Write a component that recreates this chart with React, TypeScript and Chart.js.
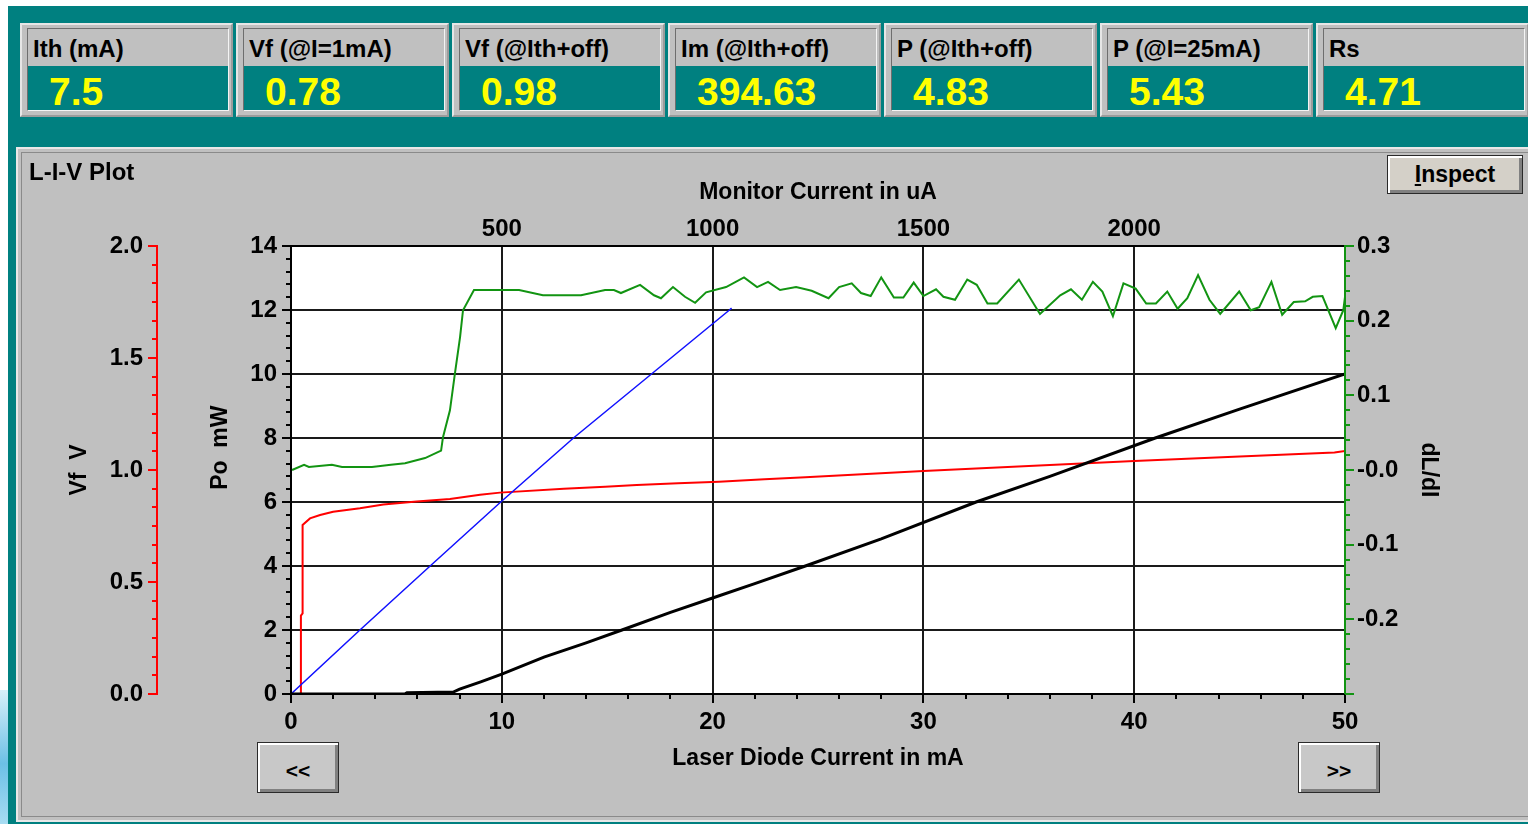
import React, { useEffect, useRef } from 'react';
import { Chart, registerables } from 'chart.js';

Chart.register(...registerables);

// ---------- data ----------
const meterLabels = ['Ith (mA)', 'Vf (@I=1mA)', 'Vf (@Ith+off)', 'Im (@Ith+off)', 'P (@Ith+off)', 'P (@I=25mA)', 'Rs'];
const meterValues = ['7.5', '0.78', '0.98', '394.63', '4.83', '5.43', '4.71'];

const ldCurrentTicks = ['0', '10', '20', '30', '40', '50'];
const monitorTicks = ['', '500', '1000', '1500', '2000'];
const poTicks = ['0', '2', '4', '6', '8', '10', '12', '14'];
const vfTicks = ['0.0', '0.5', '1.0', '1.5', '2.0'];
const dldiTicks = ['', '-0.2', '-0.1', '-0.0', '0.1', '0.2', '0.3'];

// Optical power (black), mA -> mW
const powerCurrent = [0, 5.4, 5.5, 7.7, 8.0, 9.0, 10, 12, 14, 15.7, 18, 20, 22, 24.4, 28, 32.5, 36, 41, 45, 50];
const powerValues = [0, 0, 0.04, 0.06, 0.15, 0.38, 0.62, 1.15, 1.6, 2.0, 2.55, 3.0, 3.45, 4.0, 4.85, 6.0, 6.8, 8.0, 8.9, 10.0];

// Blue line, mA -> mW
const blueCurrent = [0, 3.27, 6.6, 9.95, 13.4, 17.1, 20.8, 20.9];
const bluePower = [0, 2, 4, 6, 8, 10, 12, 12.06];

// Forward voltage (red), mA -> V
const vfCurrent = [0.47, 0.47, 0.55, 0.55, 0.9, 1.38, 2.0, 3.27, 4.38, 5.96, 7.54, 8.97, 9.91, 12.94, 14.9, 16.4, 18.36, 20.3, 22.46, 24.4, 30, 35, 40, 45, 49.5, 50];
const vfValues = [0, 0.35, 0.36, 0.755, 0.784, 0.799, 0.814, 0.829, 0.846, 0.859, 0.871, 0.889, 0.899, 0.916, 0.925, 0.933, 0.941, 0.948, 0.959, 0.968, 0.996, 1.018, 1.04, 1.06, 1.078, 1.085];

// dL/dI (green), mA -> value
const dldiCurrent = [0.05, 0.62, 0.85, 1.94, 2.42, 3.84, 4.74, 5.41, 6.36, 7.12, 7.21, 7.54, 7.78, 8.02, 8.16, 8.68, 10.82, 11.95, 13.76, 14.9, 15.32, 15.65, 16.56, 17.22, 17.55, 18.12, 18.69, 19.17, 19.69, 20.64, 21.49, 22.11, 22.63, 23.2, 23.96, 24.7, 25.5, 26.0, 26.6, 27.04, 27.5, 28.0, 28.6, 29.05, 29.54, 30.0, 30.6, 30.95, 31.5, 32.08, 32.53, 33.04, 33.5, 34.53, 35.53, 36.49, 37.0, 37.52, 38.04, 38.49, 38.99, 39.49, 40.07, 40.57, 41.03, 41.57, 42.06, 42.52, 43.03, 43.57, 44.08, 44.98, 45.53, 45.93, 46.51, 47.02, 47.57, 48.11, 48.47, 48.93, 49.56, 49.92, 50.0];
const dldiValues = [-0.0, 0.007, 0.004, 0.007, 0.004, 0.004, 0.007, 0.009, 0.016, 0.026, 0.044, 0.08, 0.13, 0.178, 0.214, 0.241, 0.241, 0.234, 0.234, 0.241, 0.241, 0.237, 0.248, 0.234, 0.23, 0.245, 0.232, 0.224, 0.238, 0.245, 0.258, 0.245, 0.252, 0.241, 0.245, 0.24, 0.23, 0.245, 0.25, 0.237, 0.233, 0.258, 0.231, 0.231, 0.251, 0.233, 0.242, 0.232, 0.228, 0.255, 0.248, 0.223, 0.223, 0.255, 0.209, 0.234, 0.242, 0.228, 0.252, 0.239, 0.206, 0.25, 0.243, 0.223, 0.223, 0.239, 0.216, 0.23, 0.261, 0.228, 0.209, 0.239, 0.214, 0.218, 0.252, 0.208, 0.225, 0.226, 0.232, 0.233, 0.19, 0.214, 0.232];

// ---------- styles ----------
const FONT = "'Liberation Sans', Arial, Helvetica, sans-serif";
const TEAL = '#008080';
const GRAY = '#c0c0c0';
const RED = '#ff0000';
const BLUE = '#1010ff';
const GREEN = '#129412';
const GRID = '#1a1a1a';

const pts = (xs: number[], ys: number[]) => xs.map((x, i) => ({ x, y: ys[i] }));

const chartBgPlugin = {
  id: 'chartBg',
  beforeDraw(chart: any) {
    const { ctx, chartArea: a } = chart;
    ctx.save();
    ctx.fillStyle = '#ffffff';
    ctx.fillRect(a.left, a.top, a.right - a.left, a.bottom - a.top);
    ctx.restore();
  },
};

const tickMarksPlugin = {
  id: 'tickMarks',
  afterDraw(chart: any) {
    const ctx = chart.ctx;
    const specs = [
      { id: 'x', minor: 2, per: 5, color: '#000', side: 'bottom' },
      { id: 'y', minor: 0.4, per: 5, color: '#000', side: 'left' },
      { id: 'yVf', minor: 0.5 / 6, per: 6, color: RED, side: 'left' },
      { id: 'yR', minor: 0.02, per: 5, color: GREEN, side: 'right' },
    ];
    ctx.save();
    ctx.lineWidth = 2;
    specs.forEach((s) => {
      const sc = chart.scales[s.id];
      const n = Math.round((sc.max - sc.min) / s.minor);
      ctx.strokeStyle = s.color;
      for (let i = 0; i <= n; i++) {
        const v = sc.min + i * s.minor;
        const len = i % s.per === 0 ? 9 : 5;
        const p = Math.round(sc.getPixelForValue(v));
        ctx.beginPath();
        if (s.side === 'bottom') {
          ctx.moveTo(p, sc.top);
          ctx.lineTo(p, sc.top + len);
        } else if (s.side === 'left') {
          ctx.moveTo(sc.right, p);
          ctx.lineTo(sc.right - len, p);
        } else {
          ctx.moveTo(sc.left, p);
          ctx.lineTo(sc.left + len, p);
        }
        ctx.stroke();
      }
    });
    ctx.restore();
  },
};

const tickFont = { family: FONT, size: 24, weight: 'bold' as const };
const titleFont = { family: FONT, size: 23, weight: 'bold' as const };

function Button(props: { left: number; top: number; width: number; height: number; face: string; children: any; size: number; pad?: number }) {
  return (
    <div
      style={{
        position: 'absolute',
        left: props.left,
        top: props.top,
        width: props.width,
        height: props.height,
        boxSizing: 'border-box',
        background: props.face,
        border: '1px solid #2a2a2a',
        boxShadow: 'inset 2px 2px 0 #ffffff, inset -3px -3px 0 #808080',
        display: 'flex',
        alignItems: 'center',
        justifyContent: 'center',
        paddingTop: props.pad || 0,
        fontFamily: FONT,
        fontWeight: 'bold',
        fontSize: props.size,
        color: '#000',
      }}
    >
      {props.children}
    </div>
  );
}

export default function App() {
  const ref = useRef<HTMLCanvasElement>(null);

  useEffect(() => {
    const chart = new Chart(ref.current as HTMLCanvasElement, {
      type: 'line',
      data: {
        datasets: [
          { label: 'Po', data: pts(powerCurrent, powerValues), xAxisID: 'x', yAxisID: 'y', borderColor: '#000', borderWidth: 3, pointRadius: 0, tension: 0 },
          { label: 'Im', data: pts(blueCurrent, bluePower), xAxisID: 'x', yAxisID: 'y', borderColor: BLUE, borderWidth: 1.5, pointRadius: 0, tension: 0 },
          { label: 'Vf', data: pts(vfCurrent, vfValues), xAxisID: 'x', yAxisID: 'yVf', borderColor: RED, borderWidth: 2, pointRadius: 0, tension: 0 },
          { label: 'dL/dI', data: pts(dldiCurrent, dldiValues), xAxisID: 'x', yAxisID: 'yR', borderColor: GREEN, borderWidth: 2, pointRadius: 0, tension: 0 },
        ],
      },
      options: {
        animation: false,
        responsive: false,
        devicePixelRatio: 1,
        events: [],
        layout: { padding: { left: 40, right: 70, top: 170, bottom: 44 } },
        plugins: { legend: { display: false }, tooltip: { enabled: false } },
        scales: {
          x: {
            type: 'linear',
            position: 'bottom',
            min: 0,
            max: 50,
            ticks: { stepSize: 10, font: tickFont, color: '#000', padding: 14, maxRotation: 0, autoSkip: false, callback: (_v: any, i: number) => ldCurrentTicks[i] },
            grid: { color: GRID, lineWidth: 2, drawTicks: false },
            border: { color: '#000', width: 2, z: 1 },
            title: { display: true, text: 'Laser Diode Current in mA', font: titleFont, color: '#000', padding: { top: 0, bottom: 8 } },
            afterFit: (s: any) => { s.height = 86; },
          },
          x2: {
            type: 'linear',
            position: 'top',
            min: -17,
            max: 2467,
            ticks: { stepSize: 500, includeBounds: false, font: tickFont, color: '#000', padding: 2, maxRotation: 0, autoSkip: false, callback: (_v: any, i: number) => monitorTicks[i] },
            grid: { display: false, drawTicks: false },
            border: { color: '#000', width: 2, z: 1 },
            title: { display: true, text: 'Monitor Current in uA', font: titleFont, color: '#000', padding: { top: 9, bottom: 0 } },
            afterFit: (s: any) => { s.height = 76; },
          },
          y: {
            type: 'linear',
            position: 'left',
            weight: 0,
            min: 0,
            max: 14,
            ticks: { stepSize: 2, font: tickFont, color: '#000', padding: 14, callback: (_v: any, i: number) => poTicks[i] },
            grid: { color: GRID, lineWidth: 2, drawTicks: false },
            border: { color: '#000', width: 2, z: 1 },
            title: { display: true, text: '       Po  mW', font: titleFont, color: '#000', padding: { top: 50, bottom: 0 } },
            afterFit: (s: any) => { s.width = 134; },
          },
          yVf: {
            type: 'linear',
            position: 'left',
            weight: 1,
            min: 0,
            max: 2,
            ticks: { stepSize: 0.5, font: tickFont, color: '#000', padding: 14, callback: (_v: any, i: number) => vfTicks[i] },
            grid: { display: false, drawTicks: false },
            border: { color: RED, width: 2, z: 1 },
            title: { display: true, text: 'Vf  V', font: titleFont, color: '#000', padding: { top: 26, bottom: 0 } },
            afterFit: (s: any) => { s.width = 117; },
          },
          yR: {
            type: 'linear',
            position: 'right',
            min: -0.3,
            max: 0.3,
            ticks: { stepSize: 0.1, font: tickFont, color: '#000', padding: 12, callback: (_v: any, i: number) => dldiTicks[i] },
            grid: { display: false, drawTicks: false },
            border: { color: GREEN, width: 2, z: 1 },
            title: { display: true, text: 'dL/dI', font: titleFont, color: '#000', padding: { top: 16, bottom: 0 } },
            afterFit: (s: any) => { s.width = 113; },
          },
        },
      } as any,
      plugins: [chartBgPlugin, tickMarksPlugin],
    });
    return () => chart.destroy();
  }, []);

  return (
    <div style={{ position: 'absolute', left: 0, top: 0, width: 1528, height: 824, overflow: 'hidden', background: '#ffffff', fontFamily: FONT }}>
      <div style={{ position: 'absolute', left: 0, top: 690, width: 8, height: 134, background: 'linear-gradient(180deg,#d8f0fa,#6cc0e6 55%,#a8dcf2)' }} />
      <div style={{ position: 'absolute', left: 8, top: 6, right: 0, bottom: 0, background: TEAL }} />

      {meterLabels.map((lab, i) => (
        <div
          key={lab}
          style={{
            position: 'absolute',
            left: 20 + 216 * i,
            top: 23,
            width: 213,
            height: 94,
            boxSizing: 'border-box',
            background: GRAY,
            borderTop: '2px solid #e6e6e6',
            borderLeft: '2px solid #e6e6e6',
            borderRight: '2px solid #9c9c9c',
            borderBottom: '2px solid #9c9c9c',
          }}
        >
          <div
            style={{
              position: 'absolute',
              left: 5,
              top: 3,
              width: 202,
              height: 83,
              boxSizing: 'border-box',
              borderTop: '1px solid #6e6e6e',
              borderLeft: '1px solid #6e6e6e',
              borderRight: '1px solid #f4f4f4',
              borderBottom: '1px solid #f4f4f4',
            }}
          >
            <div style={{ height: 37, background: GRAY, paddingLeft: 5, fontFamily: FONT, fontWeight: 'bold', fontSize: 24, lineHeight: '39px', color: '#000', whiteSpace: 'nowrap', overflow: 'hidden' }}>{lab}</div>
            <div style={{ height: 44, background: TEAL, paddingLeft: 21, fontFamily: FONT, fontWeight: 'bold', fontSize: 39, lineHeight: '51px', color: '#ffff00', whiteSpace: 'nowrap', overflow: 'hidden' }}>{meterValues[i]}</div>
          </div>
        </div>
      ))}

      <div
        style={{
          position: 'absolute',
          left: 16,
          top: 147,
          width: 1530,
          height: 675,
          boxSizing: 'border-box',
          background: GRAY,
          borderTop: '2px solid #e8e8e8',
          borderLeft: '2px solid #e8e8e8',
          borderBottom: '2px solid #e8e8e8',
        }}
      >
        <div style={{ position: 'absolute', left: 3, top: 3, right: 0, bottom: 3, borderTop: '1px solid #8a8a8a', borderLeft: '1px solid #8a8a8a', borderBottom: '1px solid #8a8a8a' }} />
      </div>

      <canvas ref={ref} width={1528} height={824} style={{ position: 'absolute', left: 0, top: 0, width: 1528, height: 824, pointerEvents: 'none' }} />

      <div style={{ position: 'absolute', left: 29, top: 160, fontFamily: FONT, fontWeight: 'bold', fontSize: 24, lineHeight: '24px', color: '#000', whiteSpace: 'nowrap' }}>L-I-V Plot</div>

      <Button left={1387} top={155} width={136} height={39} face="#d4d0c8" size={23}>
        <span><span style={{ textDecoration: 'underline' }}>I</span>nspect</span>
      </Button>
      <Button left={257} top={742} width={82} height={51} face="#c8c8c8" size={21} pad={6}>{'<<'}</Button>
      <Button left={1298} top={742} width={82} height={51} face="#c8c8c8" size={21} pad={6}>{'>>'}</Button>
    </div>
  );
}
